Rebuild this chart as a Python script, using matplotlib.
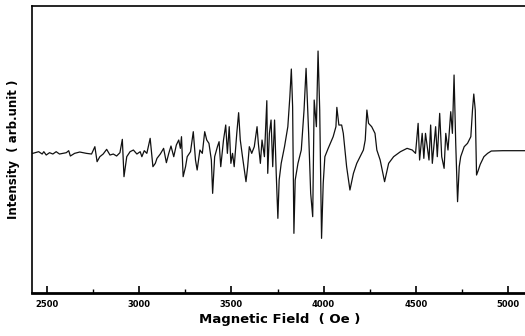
import matplotlib.pyplot as plt
from matplotlib.ticker import MultipleLocator

# EPR spectrum (field in Oe, intensity in arb. units)
field = [
  2422, 2454, 2473, 2482, 2495, 2513, 2531, 2549, 2567, 2604, 2617, 2626, 2649, 2677, 2713, 2741,
  2759, 2771, 2786, 2804, 2823, 2841, 2859, 2877, 2895, 2908, 2917, 2932, 2950, 2968, 2987, 3005,
  3014, 3027, 3041, 3059, 3074, 3087, 3096, 3114, 3132, 3147, 3160, 3172, 3187, 3201, 3214, 3223,
  3229, 3238, 3251, 3260, 3278, 3293, 3305, 3314, 3329, 3342, 3355, 3366, 3378, 3391, 3398, 3409,
  3424, 3433, 3442, 3457, 3469, 3478, 3488, 3497, 3506, 3515, 3529, 3539, 3548, 3560, 3579, 3588,
  3597, 3610, 3624, 3639, 3646, 3657, 3666, 3679, 3692, 3697, 3706, 3715, 3724, 3734, 3743, 3752,
  3759, 3770, 3788, 3806, 3817, 3825, 3832, 3839, 3846, 3861, 3879, 3894, 3905, 3912, 3919, 3930,
  3941, 3949, 3961, 3970, 3979, 3989, 3998, 4007, 4025, 4052, 4067, 4072, 4083, 4098, 4107, 4125,
  4143, 4162, 4180, 4198, 4216, 4226, 4235, 4244, 4261, 4279, 4289, 4307, 4331, 4353, 4380, 4417,
  4453, 4481, 4499, 4513, 4521, 4535, 4544, 4553, 4572, 4581, 4590, 4608, 4617, 4630, 4641, 4654,
  4663, 4675, 4690, 4699, 4708, 4717, 4727, 4736, 4744, 4763, 4781, 4799, 4808, 4815, 4823, 4830,
  4838, 4850, 4870, 4890, 4910, 4972, 5110,
]
intensity = [
  -5, 0, -7, 0, -10, -3, -7, 0, -7, -3, 3, -13, -5, -1, -5, -7,
  15, -30, -15, -7, 7, -10, -7, -13, -3, 37, -75, -15, 0, 5, -7, 0,
  -15, 3, -5, 40, -45, -35, -20, -7, 10, -33, -5, 17, -15, 20, 35, 10,
  45, -75, -45, -15, 0, 60, -25, -55, 5, -5, 60, 35, 25, -25, -125, -15,
  15, 30, -45, 35, 80, -5, 75, -35, -5, -45, 55, 117, 35, -15, -90, -45,
  15, -5, 15, 75, 25, -35, 35, -15, 153, -65, 55, 95, -45, 95, -65, -200,
  -85, -35, 15, 75, 165, 248, 135, -245, -85, -35, 5, 125, 250, 155, 55, -125,
  -195, 155, 75, 302, 125, -260, -95, -15, 10, 45, 75, 133, 80, 80, 55, -45,
  -115, -65, -35, -15, 5, 35, 125, 85, 75, 55, 5, -25, -90, -35, -15, 0,
  10, 5, -5, 85, -25, 55, -20, 55, -25, 80, -35, 75, -15, 115, -15, -50,
  55, 5, 120, 55, 230, 25, -150, -45, -15, 15, 25, 45, 125, 173, 125, -70,
  -58, -38, -15, -5, 2, 3, 3,
]

x_ticks = [2500, 3000, 3500, 4000, 4500, 5000]

fig = plt.figure(figsize=(5.25, 3.36), dpi=100)
ax = fig.add_axes([0.061, 0.128, 0.945, 0.854])

ax.plot(field, intensity, color='#111111', lw=0.9)

ax.set_xlim(2418, 5110)
ax.set_ylim(-424, 437)
ax.set_xticks(x_ticks)
ax.xaxis.set_minor_locator(MultipleLocator(250))
ax.set_yticks([])
ax.tick_params(axis='x', which='major', direction='in', length=5, width=1.2, pad=5,
               labelsize=6, top=False)
ax.tick_params(axis='x', which='minor', direction='in', length=3, width=1.0, top=False)
for lab in ax.get_xticklabels():
  lab.set_fontweight('bold')

ax.spines['right'].set_visible(False)
for s in ['left', 'top']:
  ax.spines[s].set_linewidth(1.2)
ax.spines['bottom'].set_linewidth(2.0)

ax.set_xlabel('Magnetic Field  ( Oe )', fontsize=9.5, fontweight='bold', labelpad=3)
ax.set_ylabel('Intensity  ( arb.unit )', fontsize=8.5, fontweight='bold', labelpad=9)

fig.savefig('out.png', dpi=100)
plt.close(fig)
